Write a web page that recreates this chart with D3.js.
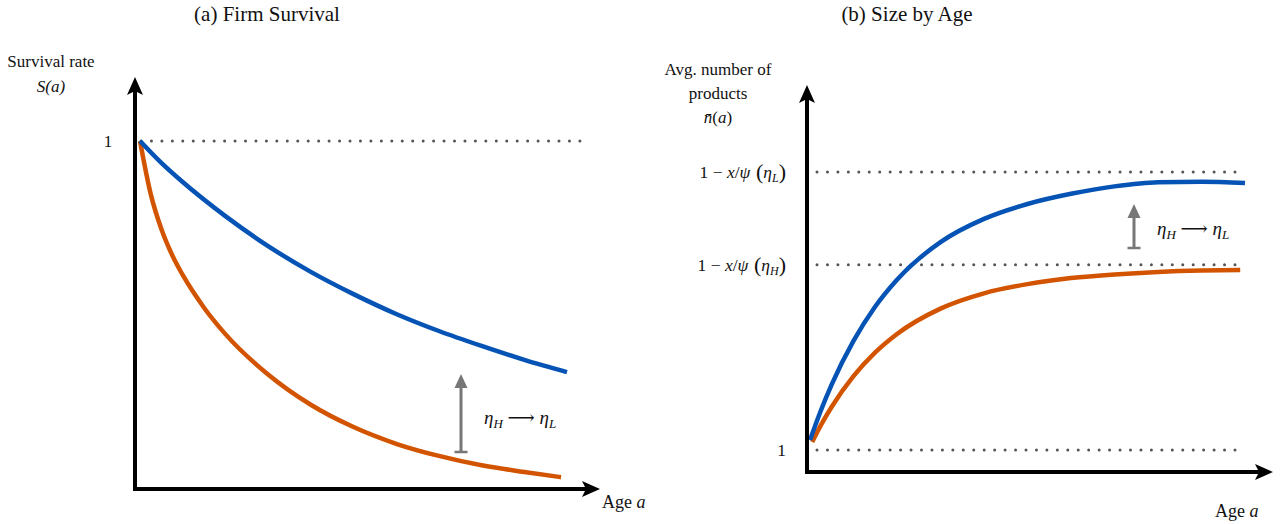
<!DOCTYPE html>
<html>
<head>
<meta charset="utf-8">
<script src="https://cdn.jsdelivr.net/npm/d3@7"></script>
<style>
  html, body { margin: 0; padding: 0; background: #fff; }
  svg { display: block; }
  text { font-family: "Liberation Serif", "DejaVu Serif", serif; fill: #111; }
</style>
</head>
<body>
<svg id="chart" width="1283" height="524"></svg>
<script>
// ---- Panel (a): survival rate S(a) by age ----
const survAgeHigh = [0, 0.5, 1, 2, 3, 4, 5, 6, 7, 8, 9, 10];          // eta_L (blue)
const survHigh    = [1.0, 0.937, 0.882, 0.784, 0.698, 0.624, 0.560, 0.503, 0.454, 0.411, 0.371, 0.336];
const survAgeLow  = [0, 0.25, 0.5, 0.75, 1, 1.5, 2, 3, 4, 5, 6, 7, 8, 9, 9.86]; // eta_H (orange)
const survLow     = [1.0, 0.848, 0.747, 0.673, 0.615, 0.521, 0.445, 0.329, 0.242, 0.178, 0.130, 0.095, 0.068, 0.049, 0.034];

// ---- Panel (b): average number of products by age ----
const sizeAgeHigh = [0, 0.25, 0.5, 1, 1.5, 2, 3, 4, 5, 6, 7, 8, 9, 10];
const sizeHigh    = [1.108, 1.426, 1.708, 2.177, 2.549, 2.838, 3.243, 3.494, 3.655, 3.765, 3.845, 3.89, 3.895, 3.88];
const sizeAgeLow  = [0.05, 0.25, 0.5, 1, 1.5, 2, 3, 4, 5, 6, 7, 8, 9, 9.89];
const sizeLow     = [1.086, 1.268, 1.467, 1.797, 2.053, 2.252, 2.526, 2.691, 2.79, 2.855, 2.895, 2.922, 2.937, 2.942];

// reference levels on the vertical axis of panel (b)
const sizeLevels  = [1, 3, 4];
const sizeLevelLabels = ["1", "H", "L"];

const blue = "#0553b5";
const orange = "#d35400";
const gray = "#777777";
const dotGray = "#555555";

const svg = d3.select("#chart");

function axisArrow(g, x1, y1, x2, y2) {
  g.append("line").attr("x1", x1).attr("y1", y1).attr("x2", x2).attr("y2", y2)
    .attr("stroke", "#000").attr("stroke-width", 4);
}
function headUp(g, x, y, color, w, h, notch) {
  g.append("path")
    .attr("d", `M${x},${y} L${x + w / 2},${y + h} L${x},${y + h - notch} L${x - w / 2},${y + h} Z`)
    .attr("fill", color);
}
function headRight(g, x, y, color, w, h, notch) {
  g.append("path")
    .attr("d", `M${x},${y} L${x - h},${y - w / 2} L${x - h + notch},${y} L${x - h},${y + w / 2} Z`)
    .attr("fill", color);
}
function dotted(g, x1, x2, y) {
  g.append("line").attr("x1", x1).attr("x2", x2).attr("y1", y).attr("y2", y)
    .attr("stroke", dotGray).attr("stroke-width", 3)
    .attr("stroke-linecap", "round").attr("stroke-dasharray", "0 10.45");
}
function shiftArrow(g, x, yBottom, yTop) {
  g.append("line").attr("x1", x).attr("x2", x).attr("y1", yBottom).attr("y2", yTop + 10)
    .attr("stroke", gray).attr("stroke-width", 3);
  g.append("line").attr("x1", x - 6.5).attr("x2", x + 6.5).attr("y1", yBottom).attr("y2", yBottom)
    .attr("stroke", gray).attr("stroke-width", 2.5);
  g.append("path").attr("d", `M${x},${yTop} L${x + 6.5},${yTop + 14} L${x - 6.5},${yTop + 14} Z`)
    .attr("fill", gray);
}
function etaLabel(g, x, y) {
  const t = g.append("text").attr("x", x).attr("y", y).attr("font-size", 19);
  t.append("tspan").attr("font-style", "italic").text("η");
  t.append("tspan").attr("font-style", "italic").attr("font-size", 13).attr("dy", 4).text("H");
  t.append("tspan").attr("dy", -4).text(" ⟶ ");
  t.append("tspan").attr("font-style", "italic").text("η");
  t.append("tspan").attr("font-style", "italic").attr("font-size", 13).attr("dy", 4).text("L");
}
function ageLabel(g, x, y) {
  g.append("text").attr("x", x).attr("y", y).attr("font-size", 18)
    .call(t => { t.append("tspan").text("Age "); t.append("tspan").attr("font-style", "italic").text("a"); });
}

// ================= Panel (a) =================
{
  const g = svg.append("g");
  const x = d3.scaleLinear().domain([0, 10]).range([140, 567]);
  const y = d3.scaleLinear().domain([0, 1]).range([489, 141]);

  g.append("text").attr("x", 267).attr("y", 21).attr("text-anchor", "middle")
    .attr("font-size", 21).text("(a) Firm Survival");

  g.append("text").attr("x", 51).attr("y", 67).attr("text-anchor", "middle")
    .attr("font-size", 17).text("Survival rate");
  g.append("text").attr("x", 51).attr("y", 92).attr("text-anchor", "middle")
    .attr("font-size", 17).attr("font-style", "italic").text("S(a)");

  dotted(g, 141, 580, y(1));
  g.append("text").attr("x", 108).attr("y", y(1) + 6).attr("text-anchor", "middle")
    .attr("font-size", 17).text("1");

  const line = d3.line().x(d => x(d[0])).y(d => y(d[1])).curve(d3.curveMonotoneX);
  g.append("path").datum(d3.zip(survAgeLow, survLow)).attr("d", line)
    .attr("fill", "none").attr("stroke", orange).attr("stroke-width", 4.5);
  g.append("path").datum(d3.zip(survAgeHigh, survHigh)).attr("d", line)
    .attr("fill", "none").attr("stroke", blue).attr("stroke-width", 4.5);

  // axes
  axisArrow(g, 135, 491, 135, 90);
  headUp(g, 135, 77, "#000", 16, 18, 4);
  axisArrow(g, 133, 489, 588, 489);
  headRight(g, 600, 489, "#000", 16, 18, 4);

  ageLabel(g, 602, 508);

  shiftArrow(g, 461, 452, 374);
  etaLabel(g, 484, 424);
}

// ================= Panel (b) =================
{
  const g = svg.append("g");
  const x = d3.scaleLinear().domain([0, 10]).range([810, 1245]);
  const y = d3.scaleLinear().domain([1, 4]).range([450, 172]);

  g.append("text").attr("x", 907).attr("y", 21).attr("text-anchor", "middle")
    .attr("font-size", 21).text("(b) Size by Age");

  g.append("text").attr("x", 718).attr("y", 75).attr("text-anchor", "middle")
    .attr("font-size", 17).text("Avg. number of");
  g.append("text").attr("x", 718).attr("y", 99).attr("text-anchor", "middle")
    .attr("font-size", 17).text("products");
  g.append("text").attr("x", 718).attr("y", 123).attr("text-anchor", "middle")
    .attr("font-size", 17)
    .call(t => { t.append("tspan").attr("font-style", "italic").text("n\u0304"); t.append("tspan").text("("); t.append("tspan").attr("font-style", "italic").text("a"); t.append("tspan").text(")"); });

  sizeLevels.forEach((v, i) => {
    dotted(g, 817, 1240, y(v));
    const t = g.append("text").attr("x", 786).attr("y", y(v) + 6).attr("text-anchor", "end").attr("font-size", 17.5);
    if (sizeLevelLabels[i] === "1") {
      t.text("1");
    } else {
      t.append("tspan").text("1 − ");
      t.append("tspan").attr("font-style", "italic").text("x");
      t.append("tspan").text("/");
      t.append("tspan").attr("font-style", "italic").text("ψ");
      t.append("tspan").attr("font-size", 22).attr("dy", 1).text(" (");
      t.append("tspan").attr("font-style", "italic").attr("dy", -1).text("η");
      t.append("tspan").attr("font-style", "italic").attr("font-size", 12).attr("dy", 4).text(sizeLevelLabels[i]);
      t.append("tspan").attr("font-size", 22).attr("dy", -3).text(")");
    }
  });

  const line = d3.line().x(d => x(d[0])).y(d => y(d[1])).curve(d3.curveMonotoneX);
  g.append("path").datum(d3.zip(sizeAgeLow, sizeLow)).attr("d", line)
    .attr("fill", "none").attr("stroke", orange).attr("stroke-width", 4.5);
  g.append("path").datum(d3.zip(sizeAgeHigh, sizeHigh)).attr("d", line)
    .attr("fill", "none").attr("stroke", blue).attr("stroke-width", 4.5);

  axisArrow(g, 807, 474, 807, 98);
  headUp(g, 807, 85, "#000", 16, 18, 4);
  axisArrow(g, 805, 472, 1261, 472);
  headRight(g, 1273, 472, "#000", 16, 18, 4);

  ageLabel(g, 1215, 517);

  shiftArrow(g, 1134, 248, 204);
  etaLabel(g, 1157, 235);
}
</script>
</body>
</html>
